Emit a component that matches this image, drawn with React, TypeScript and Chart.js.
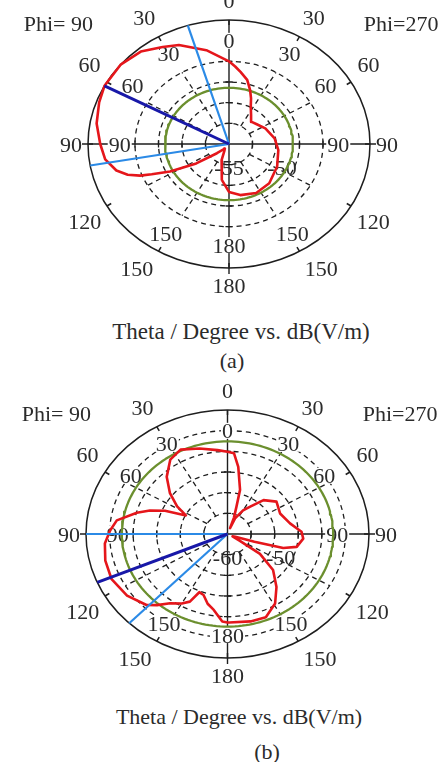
import React, { useEffect, useRef } from "react";
import { Chart, registerables } from "chart.js";

Chart.register(...registerables);

// ---------------- shared tick labels ----------------
const thetaTicks = [0, 30, 60, 90, 120, 150, 180];
const innerThetaTicks = [0, 30, 60, 90, 150, 180];

// ---------------- plot (a) ----------------
const aPhi90Theta = [0, 12, 24, 31, 40, 50, 62, 70, 80, 90, 98, 105, 109, 112, 114, 118, 124, 131, 141, 150, 158, 170, 180];
const aPhi90dB = [-45.0, -43.4, -41.9, -41.3, -40.4, -40.0, -40.0, -40.3, -40.7, -41.3, -41.7, -42.6, -43.6, -44.8, -46.0, -47.9, -50.8, -53.3, -54.3, -54.0, -52.9, -50.6, -49.2];
const aPhi270Theta = [0, 4, 8, 14, 19, 23, 27, 34, 42, 51, 64, 82, 98, 118, 138, 154, 169, 180];
const aPhi270dB = [-45.0, -45.6, -46.2, -47.0, -48.1, -49.0, -49.9, -50.8, -51.4, -51.2, -50.7, -50.1, -49.7, -49.2, -48.6, -48.4, -48.7, -49.2];
const aRefLevel = -48.2;
const aLightBlueTheta = [17, 100];
const aDarkBlueTheta = [62];
const aRadialLabels = [-55, -50];

// ---------------- plot (b) ----------------
const bPhi90Theta = [0, 6, 16, 26, 34, 43, 51, 58, 63, 67, 71, 75, 82, 88, 95, 104, 114, 125, 135, 139, 144, 150, 154, 157, 161, 166, 171, 177, 180];
const bPhi90dB = [-40.1, -39.6, -38.5, -37.3, -38.3, -41.1, -44.3, -47.4, -50.1, -45.6, -42.6, -40.1, -36.3, -35.1, -33.9, -33.3, -33.1, -34.0, -35.7, -37.2, -39.3, -40.6, -41.8, -44.7, -44.4, -42.6, -41.4, -38.8, -38.6];
const bPhi270Theta = [0, 4, 8, 14, 16, 19, 21, 23, 30, 36, 43, 53, 66, 79, 88, 94, 102, 106, 108, 112, 118, 122, 125, 132, 141, 149, 158, 167, 179, 180];
const bPhi270dB = [-40.1, -40.4, -43.6, -49.0, -53.1, -55.8, -58.5, -55.9, -53.4, -51.8, -48.8, -47.0, -47.8, -46.5, -44.3, -43.9, -45.0, -47.7, -54.0, -58.2, -58.8, -57.0, -51.6, -47.0, -43.5, -40.4, -38.3, -38.3, -38.6, -38.6];
const bRefLevel = -37.6;
const bLightBlueTheta = [90, 136];
const bDarkBlueTheta = [113];
const bRadialLabels = [-60, -50];

// ---------------- styling / layout ----------------
const FONT = '"Liberation Serif", "Times New Roman", serif';
const TXT = "#2b2b2b";
const INK = "#1e1e1e";
const RED = "#e5161b";
const GREEN = "#6b8f2e";
const LIGHT_BLUE = "#2b8ae6";
const DARK_BLUE = "#1818a8";

type PlotCfg = {
  w: number; h: number; cx: number; cy: number; rx: number; ry: number;
  dBMin: number; dBMax: number; ringStep: number; ringCount: number;
  phi90Theta: number[]; phi90dB: number[]; phi270Theta: number[]; phi270dB: number[];
  refLevel: number; lightBlue: number[]; darkBlue: number[]; radialLabels: number[];
};

const plotA: PlotCfg = {
  w: 442, h: 305, cx: 229, cy: 144, rx: 141, ry: 124,
  dBMin: -55, dBMax: -40, ringStep: 2.5, ringCount: 4,
  phi90Theta: aPhi90Theta, phi90dB: aPhi90dB, phi270Theta: aPhi270Theta, phi270dB: aPhi270dB,
  refLevel: aRefLevel, lightBlue: aLightBlueTheta, darkBlue: aDarkBlueTheta, radialLabels: aRadialLabels,
};
const plotB: PlotCfg = {
  w: 442, h: 312, cx: 227.5, cy: 154, rx: 141.5, ry: 124,
  dBMin: -60, dBMax: -30, ringStep: 5, ringCount: 5,
  phi90Theta: bPhi90Theta, phi90dB: bPhi90dB, phi270Theta: bPhi270Theta, phi270dB: bPhi270dB,
  refLevel: bRefLevel, lightBlue: bLightBlueTheta, darkBlue: bDarkBlueTheta, radialLabels: bRadialLabels,
};

// label placement (angle, normalized radius) around the rings
const OUTER_POS: Record<number, [number, number]> = {
  0: [0, 1.16], 30: [30.5, 1.185], 60: [57, 1.18], 90: [90, 1.12], 120: [121.5, 1.2], 150: [147, 1.2], 180: [180, 1.145],
};
const INNER_POS: Record<number, [number, number]> = {
  0: [0, 0.832], 30: [30.5, 0.845], 60: [55.5, 0.83], 90: [90, 0.775], 150: [148, 0.848], 180: [180, 0.815],
};

const rad = (d: number) => (d * Math.PI) / 180;
// side +1: Phi=90 half (left), side -1: Phi=270 half (right)
const toXY = (theta: number, r: number, side: number) => ({
  x: -side * r * Math.sin(rad(theta)),
  y: r * Math.cos(rad(theta)),
});

function buildChart(canvas: HTMLCanvasElement, cfg: PlotCfg) {
  const span = cfg.dBMax - cfg.dBMin;
  const norm = (dB: number) => (dB - cfg.dBMin) / span;

  const pattern: { x: number; y: number }[] = [];
  cfg.phi90Theta.forEach((t, i) => pattern.push(toXY(t, norm(cfg.phi90dB[i]), 1)));
  for (let i = cfg.phi270Theta.length - 1; i >= 0; i--) {
    pattern.push(toXY(cfg.phi270Theta[i], norm(cfg.phi270dB[i]), -1));
  }
  pattern.push(pattern[0]);

  const ref: { x: number; y: number }[] = [];
  for (let t = 0; t <= 360; t += 2) ref.push(toXY(t, norm(cfg.refLevel), 1));

  const ray = (t: number) => [toXY(t, 0, 1), toXY(t, norm(cfg.dBMax), 1)];

  const common = { showLine: true, pointRadius: 0, pointHoverRadius: 0, fill: false, tension: 0, borderJoinStyle: "round" as const, borderCapStyle: "butt" as const };
  const datasets: any[] = [
    ...cfg.darkBlue.map((t) => ({ ...common, data: ray(t), borderColor: DARK_BLUE, borderWidth: 3 })),
    ...cfg.lightBlue.map((t) => ({ ...common, data: ray(t), borderColor: LIGHT_BLUE, borderWidth: 2.2 })),
    { ...common, data: pattern, borderColor: RED, borderWidth: 2.6 },
    { ...common, data: ref, borderColor: GREEN, borderWidth: 2.3 },
  ];

  const framePlugin = {
    id: "polarFrame",
    beforeDatasetsDraw(chart: any) {
      const { ctx } = chart;
      const xs = chart.scales.x;
      const ys = chart.scales.y;
      const ox = xs.getPixelForValue(0);
      const oy = ys.getPixelForValue(0);
      const RX = xs.getPixelForValue(1) - ox;
      const RY = oy - ys.getPixelForValue(1);
      // a: angle measured from top, counter-clockwise (toward the Phi=90 side)
      const pt = (a: number, r: number): [number, number] => [ox - r * RX * Math.sin(rad(a)), oy - r * RY * Math.cos(rad(a))];
      const ringR = (k: number) => (k * cfg.ringStep) / span;

      ctx.save();
      ctx.strokeStyle = INK;
      ctx.lineCap = "butt";

      // dashed dB rings
      ctx.setLineDash([5, 4]);
      ctx.lineWidth = 1.3;
      for (let k = 1; k <= cfg.ringCount; k++) {
        ctx.beginPath();
        ctx.ellipse(ox, oy, ringR(k) * RX, ringR(k) * RY, 0, 0, Math.PI * 2);
        ctx.stroke();
      }
      // dashed radial lines
      for (const a of [30, 60, 120, 150, 210, 240, 300, 330]) {
        const p0 = pt(a, ringR(1));
        const p1 = pt(a, ringR(cfg.ringCount));
        ctx.beginPath();
        ctx.moveTo(p0[0], p0[1]);
        ctx.lineTo(p1[0], p1[1]);
        ctx.stroke();
      }
      ctx.setLineDash([]);

      // outer (theta) ring
      ctx.lineWidth = 1.5;
      ctx.beginPath();
      ctx.ellipse(ox, oy, RX, RY, 0, 0, Math.PI * 2);
      ctx.stroke();
      // outer ring ticks every 30 degrees
      for (let a = 0; a < 360; a += 30) {
        const dx = Math.sin(rad(a)), dy = Math.cos(rad(a));
        const p0 = pt(a, 1);
        ctx.beginPath();
        ctx.moveTo(p0[0], p0[1]);
        ctx.lineTo(p0[0] + dx * 5, p0[1] + dy * 5);
        ctx.stroke();
      }

      // solid axes
      ctx.lineWidth = 1.4;
      ctx.beginPath();
      ctx.moveTo(ox - RX - 6, oy);
      ctx.lineTo(ox + RX + 6, oy);
      ctx.moveTo(ox, oy - RY);
      ctx.lineTo(ox, oy + RY + 6);
      ctx.stroke();
      // axis ticks at ring radii
      ctx.lineWidth = 1.3;
      for (let k = 1; k <= cfg.ringCount; k++) {
        const r = ringR(k);
        ctx.beginPath();
        for (const s of [-1, 1]) {
          ctx.moveTo(ox + s * r * RX, oy - 3.5);
          ctx.lineTo(ox + s * r * RX, oy + 3.5);
          ctx.moveTo(ox - 3.5, oy + s * r * RY);
          ctx.lineTo(ox + 3.5, oy + s * r * RY);
        }
        ctx.stroke();
      }

      // text
      ctx.font = `22px ${FONT}`;
      const label = (text: string, x: number, y: number, bg: boolean) => {
        const w = ctx.measureText(text).width;
        if (bg) {
          ctx.fillStyle = "#ffffff";
          ctx.fillRect(x - w / 2 - 1, y - 8, w + 2, 16);
        }
        ctx.fillStyle = TXT;
        ctx.textAlign = "center";
        ctx.textBaseline = "alphabetic";
        ctx.fillText(text, x, y + 7.5);
      };

      for (const t of thetaTicks) {
        const [la, lr] = OUTER_POS[t];
        const sides = t === 0 || t === 180 ? [1] : [1, -1];
        for (const s of sides) {
          const p = pt(s * la, lr);
          label(String(t), p[0], p[1], false);
        }
      }
      for (const t of innerThetaTicks) {
        const [la, lr] = INNER_POS[t];
        const sides = t === 0 || t === 180 ? [1] : [1, -1];
        for (const s of sides) {
          const p = pt(s * la, lr);
          label(String(t), p[0], p[1], true);
        }
      }
      cfg.radialLabels.forEach((v) => {
        const r = norm(v);
        label(String(v), ox + r * RX + (r > 0 ? 6 : 0), oy + 0.19 * RY, false);
      });
      label("Phi= 90", ox - 1.21 * RX, oy - 0.97 * RY, false);
      label("Phi=270", ox + 1.22 * RX, oy - 0.97 * RY, false);

      ctx.restore();
    },
  };

  return new Chart(canvas, {
    type: "scatter",
    data: { datasets },
    options: {
      responsive: false,
      maintainAspectRatio: false,
      animation: false,
      devicePixelRatio: 1,
      events: [],
      layout: { padding: 0 },
      plugins: { legend: { display: false }, tooltip: { enabled: false }, title: { display: false } },
      scales: {
        x: { type: "linear", display: false, bounds: "data", min: -cfg.cx / cfg.rx, max: (cfg.w - cfg.cx) / cfg.rx },
        y: { type: "linear", display: false, bounds: "data", min: -(cfg.h - cfg.cy) / cfg.ry, max: cfg.cy / cfg.ry },
      },
    },
    plugins: [framePlugin],
  } as any);
}

function PolarPlot({ cfg, top }: { cfg: PlotCfg; top: number }) {
  const ref = useRef<HTMLCanvasElement>(null);
  useEffect(() => {
    if (!ref.current) return;
    const chart = buildChart(ref.current, cfg);
    return () => chart.destroy();
  }, [cfg]);
  return (
    <canvas
      ref={ref}
      width={cfg.w}
      height={cfg.h}
      style={{ position: "absolute", left: 0, top, width: cfg.w, height: cfg.h }}
    />
  );
}

function Caption({ text, x, y, size }: { text: string; x: number; y: number; size: number }) {
  return (
    <div
      style={{
        position: "absolute",
        left: x,
        top: y,
        transform: "translate(-50%, -50%)",
        fontFamily: FONT,
        fontSize: size,
        lineHeight: 1,
        color: TXT,
        whiteSpace: "nowrap",
      }}
    >
      {text}
    </div>
  );
}

export default function App() {
  return (
    <div style={{ position: "absolute", left: 0, top: 0, width: 442, height: 762, background: "#ffffff", overflow: "hidden" }}>
      <PolarPlot cfg={plotA} top={0} />
      <Caption text="Theta / Degree vs. dB(V/m)" x={241} y={331} size={23} />
      <Caption text="(a)" x={232} y={361} size={22} />
      <PolarPlot cfg={plotB} top={380} />
      <Caption text="Theta / Degree vs. dB(V/m)" x={239} y={717} size={22} />
      <Caption text="(b)" x={267} y={752} size={22} />
    </div>
  );
}
